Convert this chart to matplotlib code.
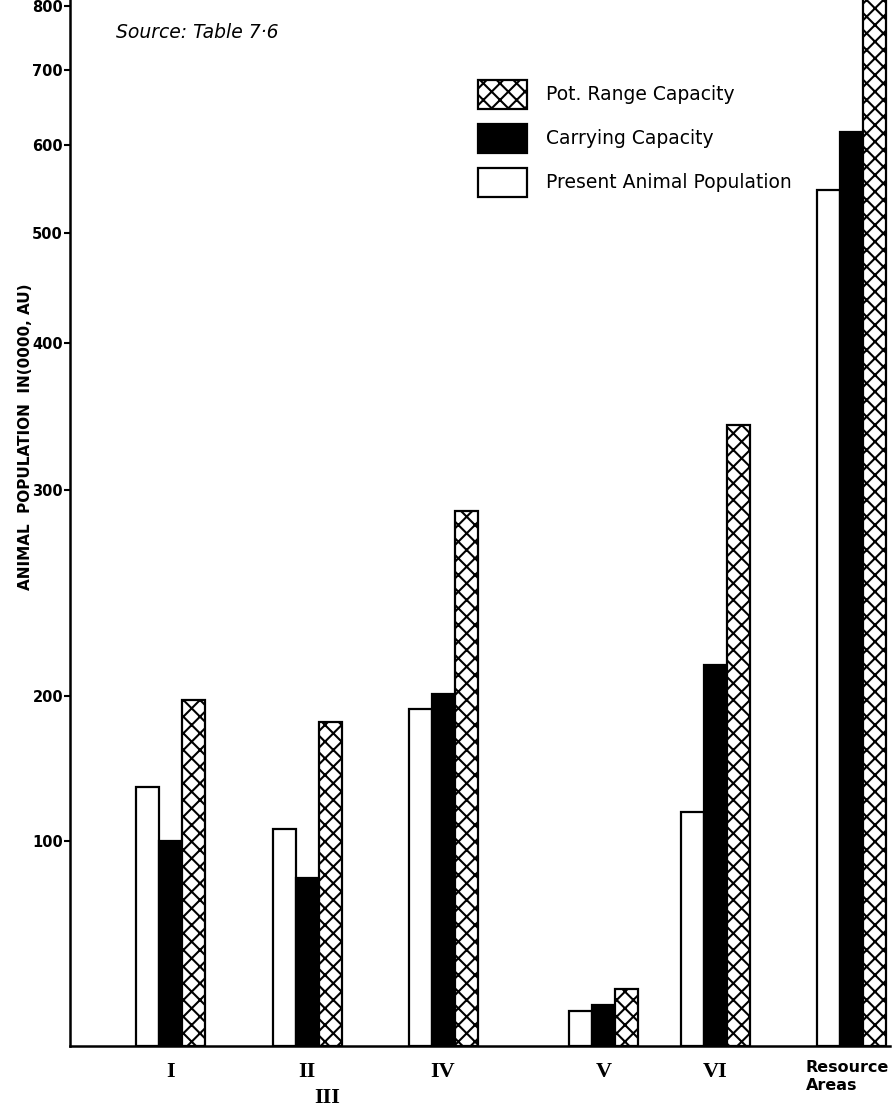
import numpy as np
import matplotlib
matplotlib.use('Agg')
import matplotlib.pyplot as plt
from matplotlib.patches import Patch

# values (0000 AU)
areas = ['I', 'II', 'IV', 'V', 'VI', 'Resource\nAreas']
present = [137, 108, 191, 17, 120, 549]
carrying = [100, 82, 201, 20, 215, 617]
potential = [197, 182, 290, 28, 344, 850]
yticks = [100, 200, 300, 400, 500, 600, 700, 800]

# the printed y axis is irregular: value -> drawn height above baseline
scale_vals = [0, 100, 200, 300, 400, 500, 600, 700, 800, 900]
scale_h = [0, 205, 350, 556, 703, 813, 901, 976, 1040, 1100]


def fwd(v):
    return np.interp(v, scale_vals, scale_h)


def inv(h):
    return np.interp(h, scale_h, scale_vals)


plt.rcParams['hatch.linewidth'] = 1.5
plt.rcParams['font.family'] = ['DejaVu Sans']

fig = plt.figure(figsize=(8.93, 11.12), dpi=100)
ax = fig.add_axes([70 / 893, 66 / 1112, 820 / 893, 1046 / 1112])

group_x = np.array([100.5, 237, 373, 533.5, 645.5, 781.5])
w = 23

ax.bar(group_x - w, present, w, color='white', edgecolor='black', linewidth=1.6)
ax.bar(group_x, carrying, w, color='black', edgecolor='black', linewidth=1.6)
ax.bar(group_x + w, potential, w, color='white', edgecolor='black', linewidth=1.6, hatch='xx')

ax.set_yscale('function', functions=(fwd, inv))
ax.set_ylim(0, 810)
ax.set_xlim(0, 820)

ax.set_yticks(yticks)
ax.set_yticklabels([str(t) for t in yticks], fontsize=10.5, fontweight='bold')
ax.tick_params(axis='y', direction='out', length=4, width=1.5, pad=1)
ax.set_xticks([])

for s in ['top', 'right']:
    ax.spines[s].set_visible(False)
ax.spines['left'].set_linewidth(1.8)
ax.spines['bottom'].set_linewidth(1.8)

# category labels under the groups
trans = ax.get_xaxis_transform()
for x, lab in zip(group_x[:-1], areas[:-1]):
    ax.text(x, -0.025, lab, transform=trans, ha='center', va='center',
            fontfamily='Liberation Serif', fontweight='bold', fontsize=16)
ax.text(group_x[1] + 20, -0.05, 'III', transform=trans, ha='center', va='center',
        fontfamily='Liberation Serif', fontweight='bold', fontsize=16)
ax.text(group_x[-1] - 46, -0.013, areas[-1], transform=trans, ha='left', va='top',
        fontsize=11.5, fontweight='bold', linespacing=1.25, clip_on=False)

ax.text(0.056, 0.969, 'Source: Table 7·6', transform=ax.transAxes, fontsize=13.5,
        fontstyle='italic', va='center', ha='left')

fig.text(0.028, 0.607, 'ANIMAL  POPULATION  IN(0000, AU)', rotation=90,
         fontsize=11, fontweight='bold', ha='center', va='center')

handles = [Patch(facecolor='white', edgecolor='black', hatch='xx', linewidth=1.6),
           Patch(facecolor='black', edgecolor='black', linewidth=1.6),
           Patch(facecolor='white', edgecolor='black', linewidth=1.6)]
labels = ['Pot. Range Capacity', 'Carrying Capacity', 'Present Animal Population']
ax.legend(handles, labels, loc='upper left', bbox_to_anchor=(0.4976, 0.9235),
          frameon=False, fontsize=13.5, borderpad=0, borderaxespad=0,
          handlelength=2.6, handleheight=2.0, labelspacing=0.8, handletextpad=1.0)

fig.savefig('out.png', dpi=100)
